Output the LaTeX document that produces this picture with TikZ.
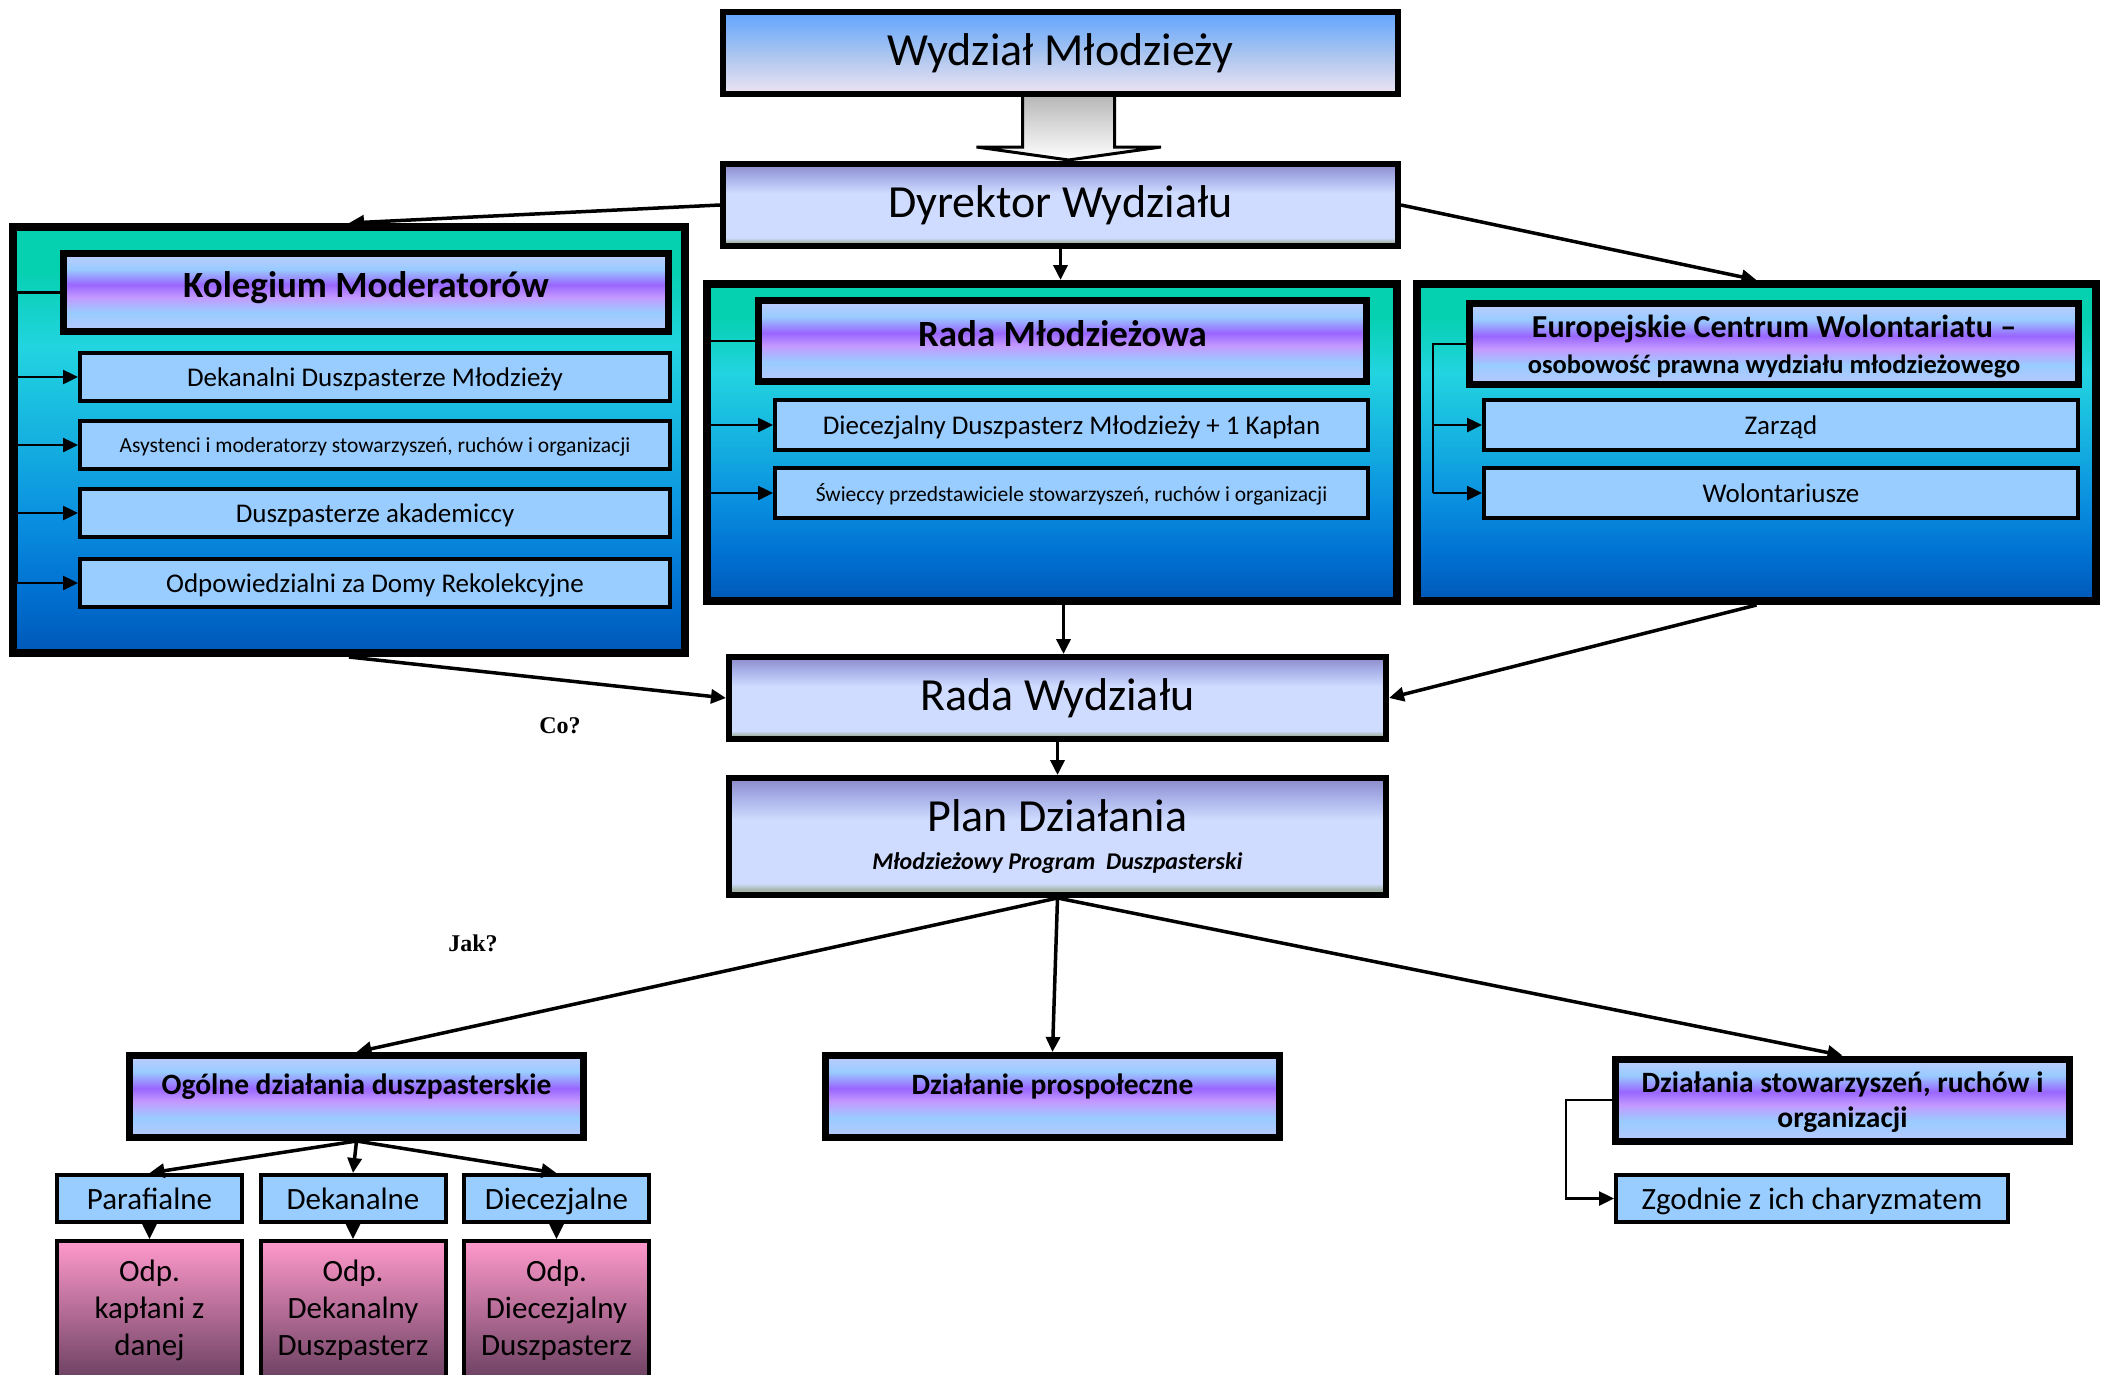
\documentclass[tikz,border=0pt]{standalone}
\usepackage{fontspec}
\setmainfont{Carlito}
\newfontfamily\qfont{Liberation Serif}
\usetikzlibrary{arrows.meta}

\definecolor{pnA}{HTML}{0058B8}
\definecolor{pnB}{HTML}{0070D0}
\definecolor{pnC}{HTML}{0A90E0}
\definecolor{pnD}{HTML}{15B0E0}
\definecolor{pnE}{HTML}{22D4E0}
\definecolor{pnF}{HTML}{05D0B0}
\definecolor{hdA}{HTML}{B8C8FF}
\definecolor{hdB}{HTML}{99CCFF}
\definecolor{hdC}{HTML}{C499FF}
\definecolor{hdD}{HTML}{9966FF}
\definecolor{hdE}{HTML}{C0CCFF}
\definecolor{drA}{HTML}{98A898}
\definecolor{drB}{HTML}{A8B8B0}
\definecolor{drC}{HTML}{D0DCFF}
\definecolor{drD}{HTML}{A8B0E8}
\definecolor{drE}{HTML}{8A8AC8}
\definecolor{tpA}{HTML}{EEE4F2}
\definecolor{tpB}{HTML}{A8C4F0}
\definecolor{tpC}{HTML}{60A4FF}
\definecolor{pkA}{HTML}{6A4060}
\definecolor{pkB}{HTML}{FF99CC}
\definecolor{itemblue}{HTML}{99CCFF}

\pgfdeclareverticalshading{panelsh}{100bp}{color(0bp)=(pnA); color(25bp)=(pnA); color(32bp)=(pnB); color(41bp)=(pnC); color(50bp)=(pnD); color(61bp)=(pnE); color(70bp)=(pnF); color(100bp)=(pnF)}
\pgfdeclareverticalshading{headsh}{100bp}{color(0bp)=(hdA); color(25bp)=(hdA); color(37bp)=(hdB); color(47bp)=(hdC); color(55bp)=(hdD); color(65bp)=(hdB); color(75bp)=(hdE); color(100bp)=(hdE)}
\pgfdeclareverticalshading{dirsh}{100bp}{color(0bp)=(drA); color(25bp)=(drA); color(27.5bp)=(drB); color(30bp)=(drC); color(57bp)=(drC); color(67bp)=(drD); color(75bp)=(drE); color(100bp)=(drE)}
\pgfdeclareverticalshading{topsh}{100bp}{color(0bp)=(tpA); color(25bp)=(tpA); color(50bp)=(tpB); color(75bp)=(tpC); color(100bp)=(tpC)}
\pgfdeclareverticalshading{pinksh}{100bp}{color(0bp)=(pkA); color(25bp)=(pkA); color(75bp)=(pkB); color(100bp)=(pkB)}

\def\fbig{\fontsize{46}{52}\selectfont}
\def\fhead{\fontsize{37}{42}\selectfont\bfseries}
\def\fitem{\fontsize{27}{32}\selectfont}
\def\fsmall{\fontsize{21.5}{26}\selectfont}
\def\fact{\fontsize{29.5}{35}\selectfont\bfseries}
\def\flow{\fontsize{31}{37}\selectfont}

\begin{document}
\begin{tikzpicture}[x=1pt,y=-1pt,>={Triangle[length=15pt,width=14pt]}]
\clip (0,0) rectangle (2107,1374);
\tikzset{
  bigbox/.style={draw,line width=6,minimum width=675,minimum height=82,inner sep=0,shading=dirsh,font=\fbig},
  panel/.style={draw,line width=8,inner sep=0,shading=panelsh},
  headbox/.style={draw,line width=7,inner sep=0,shading=headsh,font=\fhead,align=center,text depth=16pt},
  itembox/.style={draw,line width=4,inner sep=0,fill=itemblue,font=\fitem,text depth=0pt},
  actbox/.style={draw,line width=7,inner sep=0,minimum width=454,minimum height=82,shading=headsh,font=\fact,align=center},
  lowbox/.style={draw,line width=4,inner sep=0,minimum width=185,minimum height=47,fill=itemblue,font=\flow,text depth=0pt},
  pinkbox/.style={draw,line width=4,inner sep=0,minimum width=185,minimum height=139,shading=pinksh,font=\flow,align=center},
  conn/.style={->,line width=3.5},
  bus/.style={line width=2.5},
  question/.style={font=\fontsize{24}{28}\qfont\bfseries}
}
% top of the diagram
\node[bigbox,shading=topsh] (wm) at (1060.5,53) {Wydział Młodzieży};
\node[bigbox] (dyr) at (1060.5,205) {Dyrektor Wydziału};
\coordinate (sh) at (1068.5,97);
\draw[line width=3,top color=gray!55,bottom color=white] (sh) ++(-46,0) -- ++(0,50) -- ++(-46,0) -- (1068.5,160) -- ++(92.5,-13) -- ++(-46.5,0) -- ++(0,-50);

% three panels
\node[panel,minimum width=672,minimum height=426] (kol) at (349,440) {};
\node[headbox,minimum width=605,minimum height=78] (kolh) at (366,292.5) {Kolegium Moderatorów};
\node[itembox,minimum width=590,minimum height=48] (k1) at (375,377) {Dekanalni Duszpasterze Młodzieży};
\node[itembox,minimum width=590,minimum height=48,font=\fsmall] (k2) at (375,445) {Asystenci i moderatorzy stowarzyszeń, ruchów i organizacji};
\node[itembox,minimum width=590,minimum height=48] (k3) at (375,513) {Duszpasterze akademiccy};
\node[itembox,minimum width=590,minimum height=48] (k4) at (375,583) {Odpowiedzialni za Domy Rekolekcyjne};

\node[panel,minimum width=690,minimum height=317] (rmp) at (1052,442.5) {};
\node[headbox,minimum width=608,minimum height=81] (rmh) at (1062.5,341) {Rada Młodzieżowa};
\node[itembox,minimum width=593,minimum height=50] (r1) at (1071.5,425) {Diecezjalny Duszpasterz Młodzieży + 1 Kapłan};
\node[itembox,minimum width=593,minimum height=50,font=\fsmall] (r2) at (1071.5,493) {Świeccy przedstawiciele stowarzyszeń, ruchów i organizacji};

\node[panel,minimum width=679,minimum height=317] (ecwp) at (1756.5,442.5) {};
\node[headbox,minimum width=609,minimum height=81,font=\fontsize{32}{36}\selectfont\bfseries,text depth=0pt] (ecwh) at (1774,344) {Europejskie Centrum Wolontariatu –\\{\fontsize{26.5}{30}\selectfont osobowość prawna wydziału młodzieżowego}};
\node[itembox,minimum width=594,minimum height=50] (e1) at (1781,425) {Zarząd};
\node[itembox,minimum width=594,minimum height=50] (e2) at (1781,493) {Wolontariusze};

% inner links
\coordinate (kolbus) at (17,0);
\coordinate (rmbus) at (710,0);
\coordinate (ecwbus) at (1433,0);
\draw[bus] (kolh.west) -- (kolbus |- kolh.west) -- (kolbus |- k4.west);
\foreach \n in {k1,k2,k3,k4} \draw[conn,line width=2.5] (kolbus |- \n.west) -- (\n.west);
\draw[bus] (rmh.west) -- (rmbus |- rmh.west) -- (rmbus |- r2.west);
\foreach \n in {r1,r2} \draw[conn,line width=2.5] (rmbus |- \n.west) -- (\n.west);
\draw[bus] (ecwh.west) -- (ecwbus |- ecwh.west) -- (ecwbus |- e2.west);
\foreach \n in {e1,e2} \draw[conn,line width=2.5] (ecwbus |- \n.west) -- (\n.west);

% middle
\node[bigbox,minimum width=657] (rw) at (1057.5,698) {Rada Wydziału};
\node[bigbox,minimum width=657,minimum height=117,align=center] (plan) at (1057.5,836.5) {Plan Działania\\[-14pt]{\fontsize{24}{28}\selectfont\bfseries\itshape Młodzieżowy Program\ \ Duszpasterski}};
\node[question] (co) at (560,726) {Co?};
\node[question] (jak) at (473,943) {Jak?};

% bottom
\node[actbox,text depth=24pt] (oga) at (356.5,1096.5) {Ogólne działania duszpasterskie};
\node[actbox,text depth=24pt] (dzp) at (1052.5,1096.5) {Działanie prospołeczne};
\node[actbox,text depth=0pt] (dzs) at (1842.5,1100) {Działania stowarzyszeń, ruchów i\\organizacji};
\node[lowbox] (par) at (149.5,1198.5) {Parafialne};
\node[lowbox] (dek) at (353,1198.5) {Dekanalne};
\node[lowbox] (die) at (556.5,1198.5) {Diecezjalne};
\node[pinkbox] (parp) at (149.5,1310.5) {Odp.\\kapłani z\\danej};
\node[pinkbox] (dekp) at (353,1310.5) {Odp.\\Dekanalny\\Duszpasterz};
\node[pinkbox] (diep) at (556.5,1310.5) {Odp.\\Diecezjalny\\Duszpasterz};
\node[lowbox,minimum width=392] (zg) at (1812,1198.5) {Zgodnie z ich charyzmatem};
\coordinate (zgbus) at (1566,0);

% connectors
\draw[conn] (dyr.west) -- (kol.north);
\draw[conn] (dyr.south) -- (dyr.south |- rmp.north);
\draw[conn] (dyr.east) -- (ecwp.north);
\draw[conn] (kol.south) -- (rw.west);
\draw[conn] ([xshift=6]rw.north |- rmp.south) -- ([xshift=6]rw.north);
\draw[conn] (ecwp.south) -- (rw.east);
\draw[conn] (rw.south) -- (plan.north);
\draw[conn] (plan.south) -- (oga.north);
\draw[conn] (plan.south) -- (dzp.north);
\draw[conn] (plan.south) -- (dzs.north);
\draw[conn] (oga.south) -- (par.north);
\draw[conn] (oga.south) -- (dek.north);
\draw[conn] (oga.south) -- (die.north);
\draw[conn,line width=2.5] (par) -- (parp);
\draw[conn,line width=2.5] (dek) -- (dekp);
\draw[conn,line width=2.5] (die) -- (diep);
\draw[conn,line width=2.5] (dzs.west) -- (zgbus |- dzs.west) |- (zg.west);
\end{tikzpicture}
\end{document}
